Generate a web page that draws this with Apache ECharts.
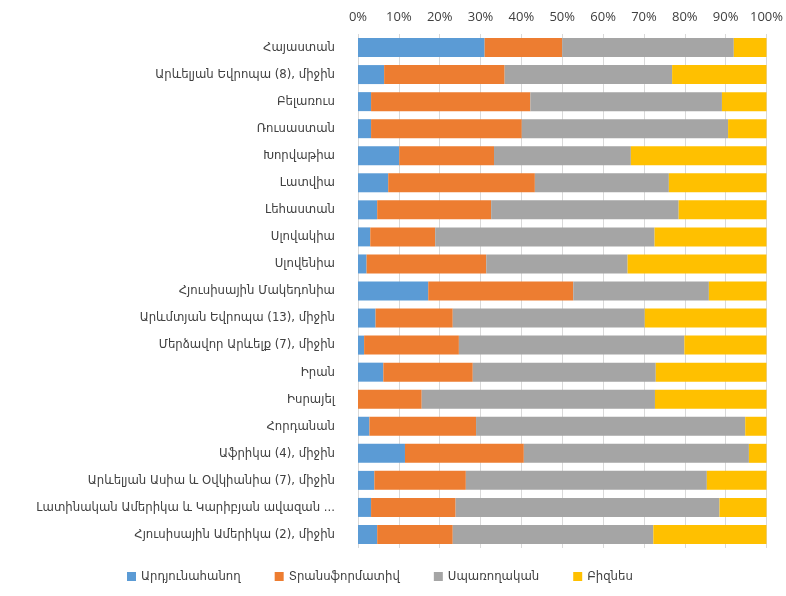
<!DOCTYPE html>
<html>
<head>
<meta charset="utf-8">
<script src="https://cdn.jsdelivr.net/npm/echarts@6/dist/echarts.min.js"></script>
<style>
  html, body { margin: 0; padding: 0; background: #fff; }
  #chart { width: 786px; height: 596px; }
</style>
</head>
<body>
<div id="chart"></div>
<script>
const categories = [
    'Հայաստան',
    'Արևելյան Եվրոպա (8), միջին',
    'Բելառուս',
    'Ռուսաստան',
    'Խորվաթիա',
    'Լատվիա',
    'Լեհաստան',
    'Սլովակիա',
    'Սլովենիա',
    'Հյուսիսային Մակեդոնիա',
    'Արևմտյան Եվրոպա (13), միջին',
    'Մերձավոր Արևելք (7), միջին',
    'Իրան',
    'Իսրայել',
    'Հորդանան',
    'Աֆրիկա (4), միջին',
    'Արևելյան Ասիա և Օվկիանիա (7), միջին',
    'Լատինական Ամերիկա և Կարիբյան ավազան ...',
    'Հյուսիսային Ամերիկա (2), միջին'
];
const seriesNames = ['Արդյունահանող', 'Տրանսֆորմատիվ', 'Սպառողական', 'Բիզնես'];
const extractive = [31, 6.4, 3.2, 3.2, 10.1, 7.4, 4.7, 3.0, 2.1, 17.2, 4.3, 1.5, 6.2, 0, 2.8, 11.5, 4.0, 3.2, 4.7];
const transformative = [19, 29.5, 39, 36.9, 23.2, 35.9, 27.9, 15.9, 29.3, 35.5, 18.9, 23.2, 21.9, 15.6, 26.1, 29.1, 22.4, 20.7, 18.5];
const consumer = [42, 41, 46.9, 50.5, 33.5, 32.8, 45.9, 53.7, 34.6, 33.2, 47.0, 55.2, 44.8, 57.1, 65.9, 55.1, 59.0, 64.6, 49.1];
const business = [8, 23.1, 10.9, 9.4, 33.2, 23.9, 21.5, 27.4, 34.0, 14.1, 29.8, 20.1, 27.1, 27.3, 5.2, 4.3, 14.6, 11.5, 27.7];
const colors = ['#5B9BD5', '#ED7D31', '#A5A5A5', '#FFC000'];

const fontFamily = '"Open Sans", "DejaVu Sans", sans-serif';
const labelFont = '"DejaVu Sans Condensed", "Open Sans", "DejaVu Sans", sans-serif';
let myChart = echarts.init(document.getElementById('chart'));
let values = [extractive, transformative, consumer, business];
let option = {
    color: colors,
    textStyle: { fontFamily: fontFamily },
    grid: {
        left: 358,
        right: 17,
        top: 34,
        bottom: 48
    },
    legend: {
        bottom: 8,
        left: 122,
        icon: 'rect',
        itemWidth: 9,
        itemHeight: 9,
        itemGap: 34,
        data: seriesNames,
        textStyle: { fontSize: 13, color: '#404040', fontFamily: labelFont }
    },
    xAxis: {
        type: 'value',
        position: 'top',
        min: 0,
        max: 100,
        interval: 10,
        axisLine: { show: false },
        axisTick: { show: false },
        axisLabel: {
            formatter: '{value}%',
            fontSize: 13,
            color: '#404040',
            margin: 10
        },
        splitLine: { lineStyle: { color: '#d9d9d9' } }
    },
    yAxis: {
        type: 'category',
        inverse: true,
        data: categories,
        axisLine: { show: false },
        axisTick: { show: false },
        axisLabel: {
            fontSize: 13,
            color: '#404040',
            fontFamily: labelFont,
            margin: 23
        }
    },
    series: seriesNames.map((name, i) => {
        return {
            name: name,
            type: 'bar',
            stack: 'total',
            barWidth: 19,
            data: values[i]
        }
    })
};
myChart.setOption(option);
</script>
</body>
</html>
